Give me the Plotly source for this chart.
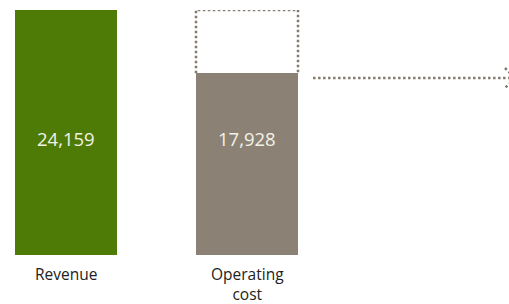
import plotly.graph_objects as go

categories = ["Revenue", "Operating<br>cost"]
values = [24159, 17928]
value_labels = ["24,159", "17,928"]
bar_colors = ["#4e7b05", "#8c8175"]
positions = [0, 1]

GREY = "#8c8175"
DOT_COLOR = "#857a6e"
BAR_W = 0.5635
DOT = "2.5px,2.5px"

fig = go.Figure()
fig.add_trace(go.Bar(
    x=positions, y=values, width=BAR_W,
    marker=dict(color=bar_colors, line=dict(width=0)),
    hoverinfo="skip", showlegend=False,
))

# dotted outline of the gap between revenue and operating cost
x0 = positions[1] - BAR_W / 2
x1 = positions[1] + BAR_W / 2
fig.add_shape(type="path",
              path=f"M {x0},{values[1]} L {x0},{values[0]} L {x1},{values[0]} L {x1},{values[1]}",
              line=dict(color=DOT_COLOR, width=2.5, dash=DOT), layer="above")

# dotted arrow to the right (head partly cut by the right edge)
arrow_y = values[1] - 474
ax0, ax_tip, ax_wing = 1.365, 2.481, 2.4254
fig.add_shape(type="line", x0=ax0, x1=ax_tip, y0=arrow_y, y1=arrow_y,
              line=dict(color=DOT_COLOR, width=2.5, dash=DOT))
fig.add_shape(type="path",
              path=f"M {ax_wing},{arrow_y+986} L {ax_tip},{arrow_y} L {ax_wing},{arrow_y-986}",
              line=dict(color=DOT_COLOR, width=2.5, dash=DOT))

for xp, lab in zip(positions, value_labels):
    fig.add_annotation(x=xp, y=11440, text=lab, showarrow=False,
                       font=dict(family="Open Sans", size=18.5, color="#f2f2e6"))

for xp, cat in zip(positions, categories):
    fig.add_annotation(x=xp, y=0, yref="paper", yanchor="top", yshift=-6,
                       text=cat, showarrow=False, align="center",
                       font=dict(family="Open Sans", size=15.5, color="#222222"))

fig.update_layout(
    width=509, height=304,
    margin=dict(l=0, r=0, t=10, b=49),
    paper_bgcolor="white", plot_bgcolor="white",
    xaxis=dict(range=[-0.3646, 2.4475], visible=False, fixedrange=True),
    yaxis=dict(range=[0, 24159], visible=False, fixedrange=True),
    bargap=0,
)

fig.write_html("out.html", config={"displayModeBar": False},
               post_script="document.body.style.margin='0';document.body.style.overflow='hidden';")
